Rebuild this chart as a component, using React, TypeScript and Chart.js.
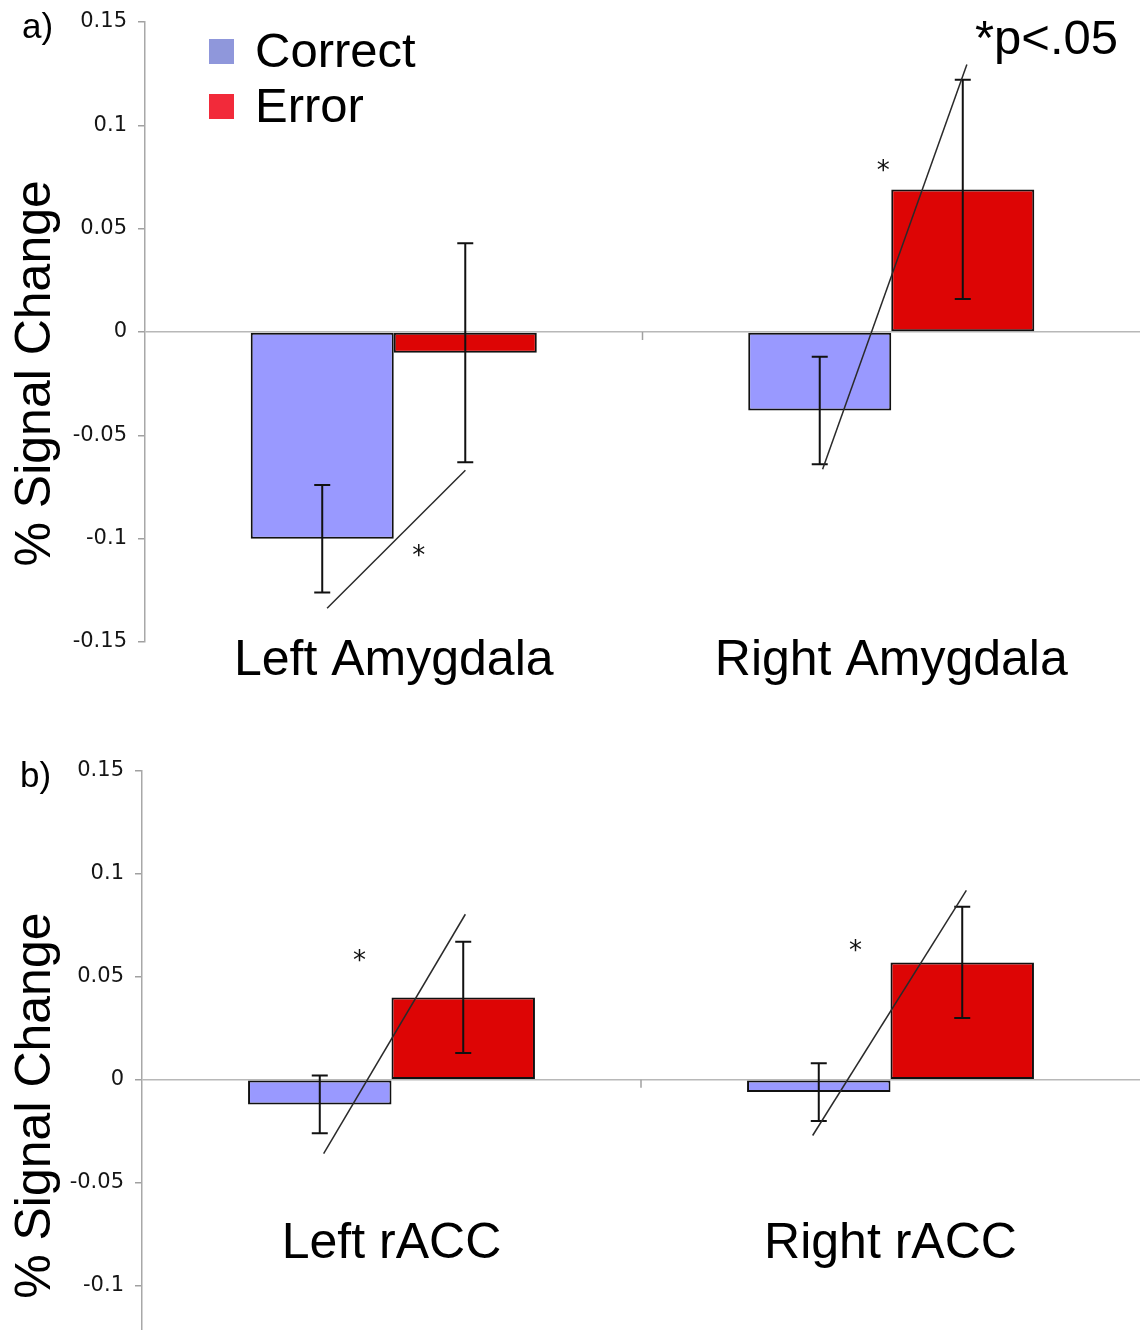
import React, { useEffect, useRef } from 'react';
import { Chart, registerables } from 'chart.js';

Chart.register(...registerables);

// ---------- data ----------
const SERIES_NAMES = ['Correct', 'Error'];
const BAR_COLORS = ['#9999ff', '#dd0505'];
const LEGEND_COLORS = ['#8f97db', '#f22a3a'];

const CATEGORIES_A = ['Left Amygdala', 'Right Amygdala'];
const CORRECT_A = [-0.1, -0.038];
const ERROR_A = [-0.01, 0.069];
const CORRECT_A_ERR = [0.026, 0.026];
const ERROR_A_ERR = [0.053, 0.053];

const CATEGORIES_B = ['Left rACC', 'Right rACC'];
const CORRECT_B = [-0.012, -0.006];
const ERROR_B = [0.04, 0.057];
const CORRECT_B_ERR = [0.014, 0.014];
const ERROR_B_ERR = [0.027, 0.027];

const Y_TICKS_A = [-0.15, -0.1, -0.05, 0, 0.05, 0.1, 0.15];
const Y_TICKS_B = [-0.1, -0.05, 0, 0.05, 0.1, 0.15];

// significance lines: [categoryIndex, dx0, y0, dx1, y1] (dx in category units)
const SIG_LINES_A = [
  [0, -0.134, -0.1337, 0.144, -0.0669],
  [1, -0.138, -0.0664, 0.152, 0.1294],
];
const SIG_LINES_B = [
  [0, -0.136, -0.0359, 0.148, 0.0804],
  [1, -0.156, -0.0271, 0.152, 0.092],
];
// asterisks: [categoryIndex, dx, y]
const SIG_STARS_A = [
  [0, 0.05, -0.106],
  [1, -0.016, 0.0804],
];
const SIG_STARS_B = [
  [0, -0.064, 0.06],
  [1, -0.07, 0.065],
];

const BIG_FONT = '"Liberation Sans", Arial, sans-serif';
const TICK_FONT = '"DejaVu Sans", Verdana, sans-serif';

type PanelCfg = {
  categories: string[];
  correct: number[];
  error: number[];
  correctErr: number[];
  errorErr: number[];
  yTicks: number[];
  yMin: number;
  yMax: number;
  axisLeft: number;
  padTop: number;
  padBottom: number;
  labelAxisValue: number;
  sigLines: number[][];
  sigStars: number[][];
  panelLabel: string;
  panelLabelPos: [number, number];
  titleCenterValue: number;
  showLegend: boolean;
  pText: boolean;
  width: number;
  height: number;
};

function makeDecor(cfg: PanelCfg) {
  return {
    id: 'decor',
    afterDatasetsDraw(chart: any) {
      const ctx = chart.ctx as CanvasRenderingContext2D;
      const xs = chart.scales.x;
      const ys = chart.scales.y;
      const area = chart.chartArea;

      // middle tick at category boundary on zero line
      ctx.save();
      ctx.strokeStyle = '#a0a0a0';
      ctx.lineWidth = 1.5;
      const mx = xs.getPixelForValue(0.5);
      const zy = ys.getPixelForValue(0);
      ctx.beginPath();
      ctx.moveTo(mx, zy);
      ctx.lineTo(mx, zy + 8);
      ctx.stroke();
      ctx.restore();

      // error bars
      const errs = [cfg.correctErr, cfg.errorErr];
      errs.forEach((errArr, di) => {
        const meta = chart.getDatasetMeta(di);
        const vals = chart.data.datasets[di].data as number[];
        meta.data.forEach((el: any, j: number) => {
          const v = vals[j];
          const e = errArr[j];
          const y0 = ys.getPixelForValue(v + e);
          const y1 = ys.getPixelForValue(v - e);
          ctx.save();
          ctx.strokeStyle = '#111';
          ctx.lineWidth = 2;
          ctx.beginPath();
          ctx.moveTo(el.x, y0);
          ctx.lineTo(el.x, y1);
          ctx.moveTo(el.x - 8, y0);
          ctx.lineTo(el.x + 8, y0);
          ctx.moveTo(el.x - 8, y1);
          ctx.lineTo(el.x + 8, y1);
          ctx.stroke();
          ctx.restore();
        });
      });

      // significance lines
      ctx.save();
      ctx.strokeStyle = '#2a2a2a';
      ctx.lineWidth = 1.5;
      cfg.sigLines.forEach(([c, dx0, y0, dx1, y1]) => {
        ctx.beginPath();
        ctx.moveTo(xs.getPixelForValue(c + dx0), ys.getPixelForValue(y0));
        ctx.lineTo(xs.getPixelForValue(c + dx1), ys.getPixelForValue(y1));
        ctx.stroke();
      });
      ctx.restore();

      // asterisks
      ctx.save();
      ctx.fillStyle = '#111';
      ctx.font = `26px ${TICK_FONT}`;
      ctx.textAlign = 'center';
      ctx.textBaseline = 'middle';
      cfg.sigStars.forEach(([c, dx, y]) => {
        ctx.fillText('*', xs.getPixelForValue(c + dx), ys.getPixelForValue(y) + 6);
      });
      ctx.restore();

      // panel label
      ctx.save();
      ctx.fillStyle = '#000';
      ctx.font = `35px ${BIG_FONT}`;
      ctx.textAlign = 'left';
      ctx.textBaseline = 'alphabetic';
      ctx.fillText(cfg.panelLabel, cfg.panelLabelPos[0], cfg.panelLabelPos[1]);
      ctx.restore();

      // y title
      ctx.save();
      ctx.fillStyle = '#000';
      ctx.font = `50px ${BIG_FONT}`;
      ctx.textAlign = 'center';
      ctx.textBaseline = 'alphabetic';
      ctx.translate(50, ys.getPixelForValue(cfg.titleCenterValue));
      ctx.rotate(-Math.PI / 2);
      ctx.fillText('% Signal Change', 0, 0);
      ctx.restore();

      if (cfg.showLegend) {
        ctx.save();
        ctx.font = `49px ${BIG_FONT}`;
        ctx.textAlign = 'left';
        ctx.textBaseline = 'alphabetic';
        SERIES_NAMES.forEach((name, i) => {
          const top = area.top + 17 + i * 55;
          ctx.fillStyle = LEGEND_COLORS[i];
          ctx.fillRect(209, top, 25, 25);
          ctx.fillStyle = '#000';
          ctx.fillText(name, 255, top + 28);
        });
        ctx.restore();
      }

      if (cfg.pText) {
        ctx.save();
        ctx.font = `49px ${BIG_FONT}`;
        ctx.fillStyle = '#000';
        ctx.textAlign = 'right';
        ctx.textBaseline = 'alphabetic';
        ctx.fillText('*p<.05', area.right - 22, area.top + 32);
        ctx.restore();
      }
    },
  };
}

function Panel({ cfg, top }: { cfg: PanelCfg; top: number }) {
  const ref = useRef<HTMLCanvasElement | null>(null);
  useEffect(() => {
    if (!ref.current) return;
    const chart = new Chart(ref.current, {
      type: 'bar',
      data: {
        labels: cfg.categories,
        datasets: [
          {
            label: SERIES_NAMES[0],
            data: cfg.correct,
            backgroundColor: BAR_COLORS[0],
            borderColor: '#111',
            borderWidth: 2,
            borderSkipped: false,
          },
          {
            label: SERIES_NAMES[1],
            data: cfg.error,
            backgroundColor: BAR_COLORS[1],
            borderColor: '#111',
            borderWidth: 2,
            borderSkipped: false,
          },
        ],
      },
      options: {
        responsive: false,
        animation: false,
        devicePixelRatio: 1,
        categoryPercentage: 0.575,
        barPercentage: 1,
        layout: { padding: { top: cfg.padTop, bottom: cfg.padBottom, left: 0, right: 0 } },
        plugins: { legend: { display: false }, tooltip: { enabled: false } },
        scales: {
          x: {
            type: 'category',
            offset: true,
            position: { y: cfg.labelAxisValue } as any,
            afterFit: (s: any) => {
              s.paddingLeft = 0;
              s.paddingRight = 0;
              s.paddingTop = 0;
              s.paddingBottom = 0;
            },
            grid: { display: false, drawTicks: false },
            border: { display: false },
            ticks: {
              font: { family: BIG_FONT, size: 50 },
              color: '#000',
              padding: 0,
              maxRotation: 0,
              autoSkip: false,
            },
          },
          y: {
            min: cfg.yMin,
            max: cfg.yMax,
            afterFit: (s: any) => {
              s.width = cfg.axisLeft;
              s.paddingTop = 0;
              s.paddingBottom = 0;
            },
            afterBuildTicks: (s: any) => {
              s.ticks = cfg.yTicks.map((v) => ({ value: v }));
            },
            border: { display: true, color: '#a8a8a8', width: 1.5 },
            grid: {
              color: (c: any) => (c.tick && c.tick.value === 0 ? '#b8b8b8' : 'rgba(0,0,0,0)'),
              lineWidth: 1.5,
              tickColor: '#a0a0a0',
              tickLength: 7,
              drawTicks: true,
            },
            ticks: {
              font: { family: TICK_FONT, size: 21 },
              color: '#151515',
              padding: 11,
              callback: (v: any) => String(v),
            },
          },
        },
      },
      plugins: [makeDecor(cfg)],
    });
    return () => chart.destroy();
  }, [cfg]);
  return (
    <canvas
      ref={ref}
      width={cfg.width}
      height={cfg.height}
      style={{ position: 'absolute', left: 0, top, width: cfg.width, height: cfg.height }}
    />
  );
}

const PANEL_A: PanelCfg = {
  categories: CATEGORIES_A,
  correct: CORRECT_A,
  error: ERROR_A,
  correctErr: CORRECT_A_ERR,
  errorErr: ERROR_A_ERR,
  yTicks: Y_TICKS_A,
  yMin: -0.15,
  yMax: 0.15,
  axisLeft: 145,
  padTop: 22,
  padBottom: 58,
  labelAxisValue: -0.1448,
  sigLines: SIG_LINES_A,
  sigStars: SIG_STARS_A,
  panelLabel: 'a)',
  panelLabelPos: [22, 38],
  titleCenterValue: -0.02,
  showLegend: true,
  pText: true,
  width: 1140,
  height: 700,
};

const PANEL_B: PanelCfg = {
  categories: CATEGORIES_B,
  correct: CORRECT_B,
  error: ERROR_B,
  correctErr: CORRECT_B_ERR,
  errorErr: ERROR_B_ERR,
  yTicks: Y_TICKS_B,
  yMin: -0.1216,
  yMax: 0.15,
  axisLeft: 142,
  padTop: 71,
  padBottom: 0,
  labelAxisValue: -0.0654,
  sigLines: SIG_LINES_B,
  sigStars: SIG_STARS_B,
  panelLabel: 'b)',
  panelLabelPos: [20, 87],
  titleCenterValue: -0.0126,
  showLegend: false,
  pText: false,
  width: 1140,
  height: 630,
};

export default function App() {
  return (
    <div style={{ position: 'absolute', left: 0, top: 0, width: 1140, height: 1330, background: '#fff', overflow: 'hidden' }}>
      <Panel cfg={PANEL_A} top={0} />
      <Panel cfg={PANEL_B} top={700} />
    </div>
  );
}
